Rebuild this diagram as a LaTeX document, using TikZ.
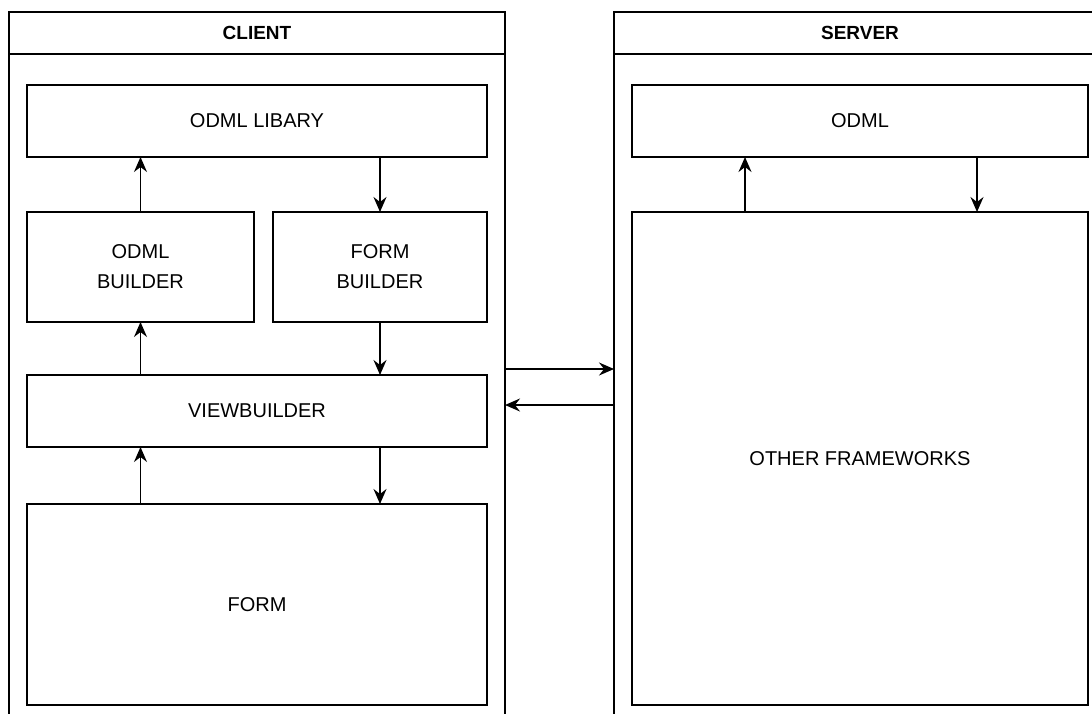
\documentclass[tikz,border=0pt]{standalone}
\usepackage{fontspec}
\setmainfont{Liberation Sans}
\usetikzlibrary{arrows.meta,positioning}

\begin{document}
\begin{tikzpicture}[
                x=1pt, y=-1pt,
                line width=1.4pt,
                box/.style={draw, rectangle, outer sep=0pt, align=center,
                    font=\fontsize{20}{30}\selectfont},
                head/.style={box, minimum height=42pt,
                    font=\bfseries\fontsize{19}{24}\selectfont},
                flow/.style={draw, line width=1.4pt,
                    -{Stealth[length=15pt,width=13pt,inset=5pt]}}]
            \useasboundingbox (0,0) rectangle (1092,713);
            % containers
            \node[head, minimum width=496pt]    (clienthead) at (257,33)          {CLIENT};
            \node[box, minimum width=496pt, minimum height=680pt]
                                                (client) [below=0pt of clienthead] {};
            \node[head, minimum width=492pt]    (serverhead) at (860,33)          {SERVER};
            \node[box, minimum width=492pt, minimum height=680pt]
                                                (server) [below=0pt of serverhead] {};
            % client side
            \node[box, minimum width=460pt, minimum height=72pt]  (olib)   at (257,121)   {ODML LIBARY};
            \node[box, minimum width=227pt, minimum height=110pt] (obuild) at (140.5,267) {ODML\\BUILDER};
            \node[box, minimum width=214pt, minimum height=110pt] (fbuild) at (380,267)   {FORM\\BUILDER};
            \node[box, minimum width=460pt, minimum height=72pt]  (viewb)  at (257,411)   {VIEWBUILDER};
            \node[box, minimum width=460pt, minimum height=201pt] (form)   at (257,604.5) {FORM};
            % server side
            \node[box, minimum width=456pt, minimum height=72pt]  (odml)   at (860,121)   {ODML};
            \node[box, minimum width=456pt, minimum height=493pt] (other)  at (860,458.5) {OTHER FRAMEWORKS};

            \path[every edge/.style={flow}]
            (obuild.north)
                edge (obuild.north |- olib.south)
            (fbuild.north |- olib.south)
                edge (fbuild.north)
            (fbuild.south)
                edge (fbuild.south |- viewb.north)
            (obuild.north |- viewb.north)
                edge (obuild.south)
            (obuild.south |- form.north)
                edge (obuild.south |- viewb.south)
            (fbuild.south |- viewb.south)
                edge (fbuild.south |- form.north)
            ([xshift=-115pt]other.north)
                edge ([xshift=-115pt]odml.south)
            ([xshift=117pt]odml.south)
                edge ([xshift=117pt]other.north)
            ([yshift=25pt]client.east)
                edge ([yshift=25pt]server.west)
            ([yshift=-11pt]server.west)
                edge ([yshift=-11pt]client.east);
        \end{tikzpicture}
\end{document}
